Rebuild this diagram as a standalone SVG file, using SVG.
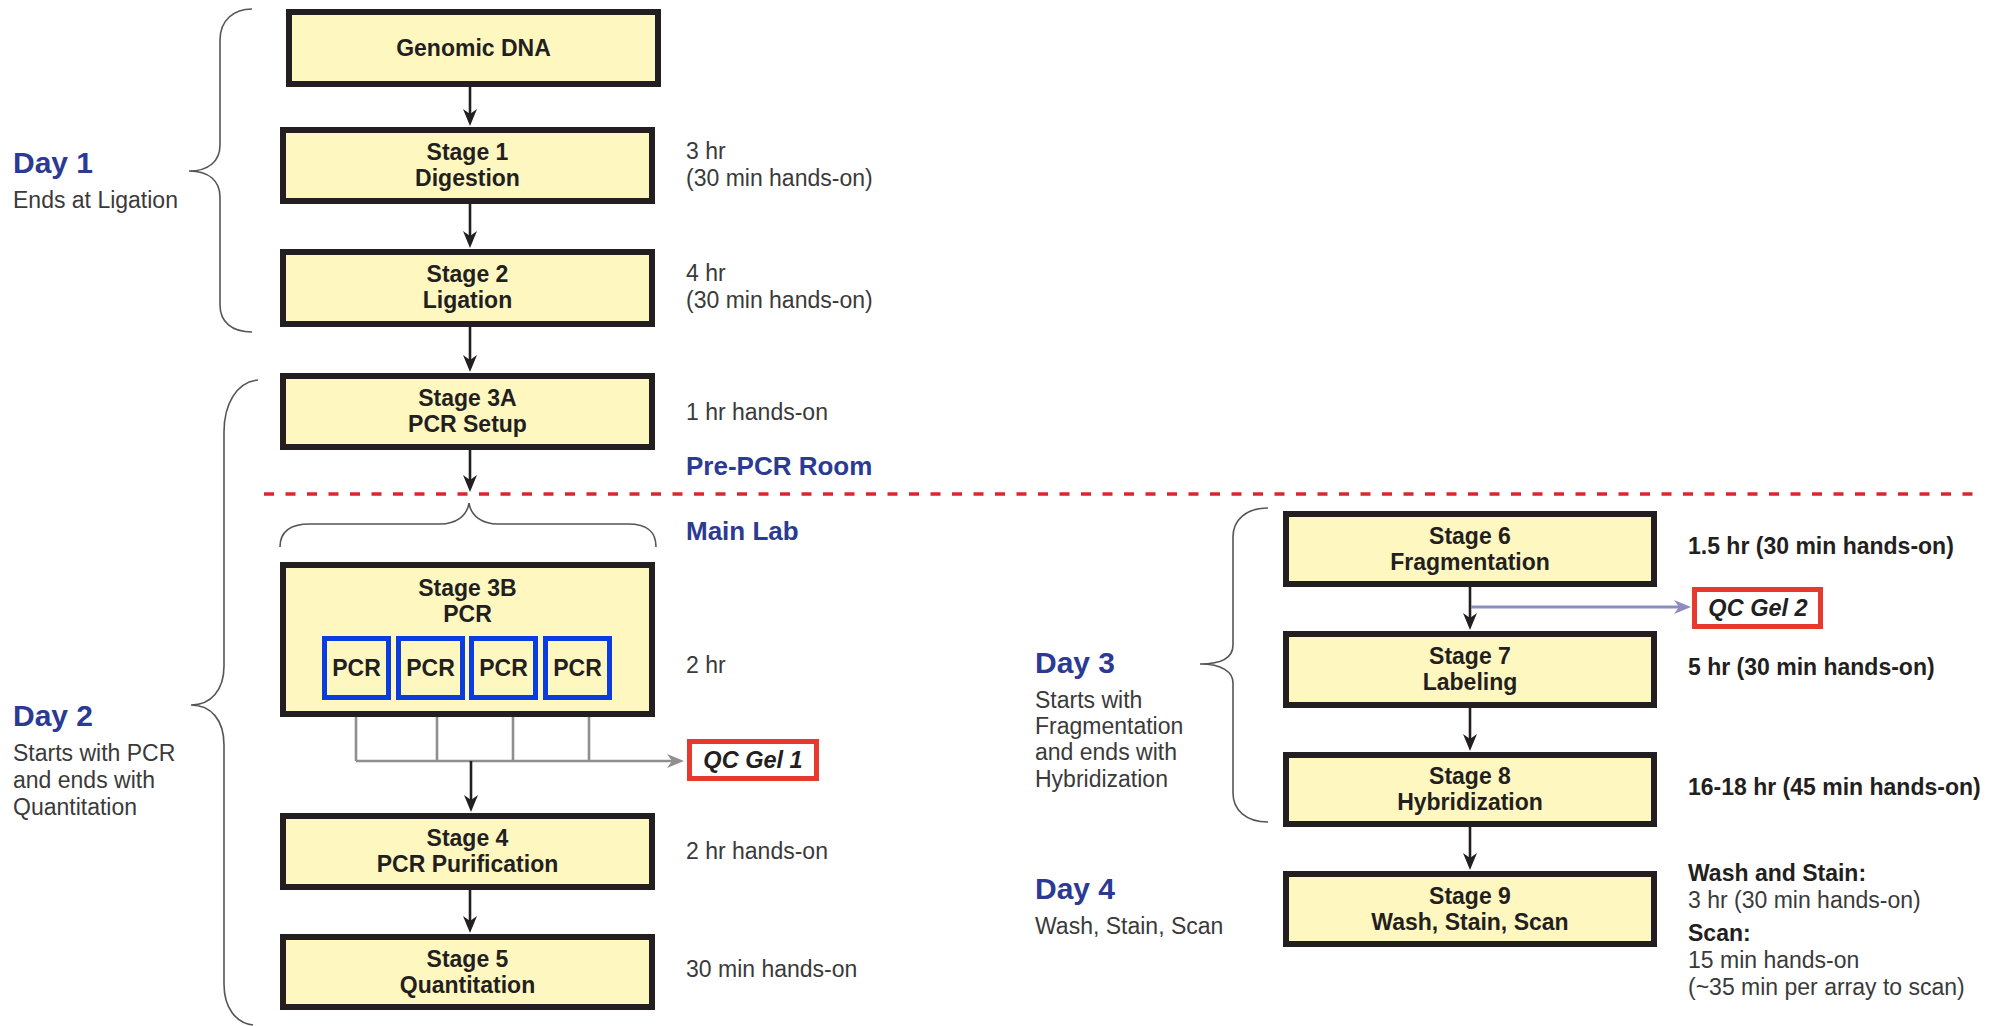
<svg xmlns="http://www.w3.org/2000/svg" width="2000" height="1026" viewBox="0 0 2000 1026">
<style>
  .box{fill:#fff7c0;stroke:#231f20;stroke-width:6}
  .pcr{fill:none;stroke:#0a3ce0;stroke-width:5}
  .qc{fill:#ffffff;stroke:#e8392f;stroke-width:5}
  .nt{font-family:"Liberation Sans",Arial,sans-serif;font-weight:bold;font-size:23px;fill:#231f20;text-anchor:middle}
  .qt{font-family:"Liberation Sans",Arial,sans-serif;font-weight:bold;font-style:italic;font-size:23.5px;fill:#231f20;text-anchor:middle}
  .rt{font-family:"Liberation Sans",Arial,sans-serif;font-size:23px;fill:#3a3a3a}
  .rb{font-family:"Liberation Sans",Arial,sans-serif;font-weight:bold;font-size:23px;fill:#231f20}
  .day{font-family:"Liberation Sans",Arial,sans-serif;font-weight:bold;font-size:30px;fill:#2b3a93}
  .room{font-family:"Liberation Sans",Arial,sans-serif;font-weight:bold;font-size:26px;fill:#2b3a93}
  .brace{fill:none;stroke:#555555;stroke-width:1.6}
  .arr{fill:none;stroke:#231f20;stroke-width:2.6;marker-end:url(#ab)}
  .gr{fill:none;stroke:#8f8f8f;stroke-width:2.6}
  .pu{fill:none;stroke:#8b8dc0;stroke-width:3}
</style>
<defs>
  <marker id="ab" viewBox="-18 -8 19 16" refX="-10" refY="0" markerWidth="19" markerHeight="16" markerUnits="userSpaceOnUse" orient="auto">
    <path d="M-17,-7 L0,0 L-17,7 L-12,0 Z" fill="#231f20"/>
  </marker>
  <marker id="ag" viewBox="-18 -8 19 16" refX="-10" refY="0" markerWidth="19" markerHeight="16" markerUnits="userSpaceOnUse" orient="auto">
    <path d="M-17,-7 L0,0 L-17,7 L-12,0 Z" fill="#8f8f8f"/>
  </marker>
  <marker id="ap" viewBox="-18 -8 19 16" refX="-10" refY="0" markerWidth="19" markerHeight="16" markerUnits="userSpaceOnUse" orient="auto">
    <path d="M-17,-7 L0,0 L-17,7 L-12,0 Z" fill="#8b8dc0"/>
  </marker>
</defs>
<rect width="2000" height="1026" fill="#ffffff"/>

<!-- divider -->
<path d="M264,494 H1980" fill="none" stroke="#d7282f" stroke-width="3.5" stroke-dasharray="10 11.5"/>

<!-- braces -->
<g id="braces">
  <path class="brace" d="M252,9 C234,9 220,20 220,40 L220,145 C220,161 209,171 189,171 C209,171 220,181 220,197 L220,305 C220,322 232,332 252,332"/>
  <path class="brace" d="M258,380 C236,382 224,405 224,432 L224,666 C224,690 211,705 191,705 C211,705 224,720 224,745 L224,984 C224,1008 236,1023 253,1025"/>
  <path class="brace" d="M1268,508 C1246,508 1233,520 1233,537 L1233,645 C1233,657 1222,664 1200,664 C1222,664 1233,672 1233,683 L1233,793 C1233,810 1246,822 1268,822"/>
  <path class="brace" d="M280,547 C280,532 290,524 310,524 L440,524 C456,524 467,516 469,503 C471,516 482,524 498,524 L628,524 C648,524 656,532 656,547"/>
</g>

<!-- connectors -->
<g id="connectors">
  <path class="arr" d="M470,87 V116"/>
  <path class="arr" d="M470,204 V238"/>
  <path class="arr" d="M470,327 V362"/>
  <path class="arr" d="M470,450 V482"/>
  <path class="gr" d="M356,717 V761 M437,717 V761 M513,717 V761 M589,717 V761"/>
  <path class="gr" d="M356,761 H674" marker-end="url(#ag)"/>
  <path class="arr" d="M471,761 V802"/>
  <path class="arr" d="M470,890 V923"/>
  <path class="arr" d="M1470,587 V620"/>
  <path class="pu" d="M1471,607 H1681" marker-end="url(#ap)"/>
  <path class="arr" d="M1470,708 V741"/>
  <path class="arr" d="M1470,827 V860"/>
</g>

<!-- nodes -->
<g id="genomic-dna">
  <rect class="box" x="289" y="12" width="369" height="72"/>
  <text class="nt" x="473.5" y="56">Genomic DNA</text>
</g>
<g id="stage1">
  <rect class="box" x="283" y="130" width="369" height="71"/>
  <text class="nt" x="467.5" y="160">Stage 1</text>
  <text class="nt" x="467.5" y="186">Digestion</text>
</g>
<g id="stage2">
  <rect class="box" x="283" y="252" width="369" height="72"/>
  <text class="nt" x="467.5" y="282">Stage 2</text>
  <text class="nt" x="467.5" y="308">Ligation</text>
</g>
<g id="stage3a">
  <rect class="box" x="283" y="376" width="369" height="71"/>
  <text class="nt" x="467.5" y="406">Stage 3A</text>
  <text class="nt" x="467.5" y="432">PCR Setup</text>
</g>
<g id="stage3b">
  <rect class="box" x="283" y="565" width="369" height="149"/>
  <text class="nt" x="467.5" y="596">Stage 3B</text>
  <text class="nt" x="467.5" y="622">PCR</text>
  <rect class="pcr" x="324.5" y="638.5" width="64" height="59"/>
  <rect class="pcr" x="398.5" y="638.5" width="64" height="59"/>
  <rect class="pcr" x="471.5" y="638.5" width="64" height="59"/>
  <rect class="pcr" x="545.5" y="638.5" width="64" height="59"/>
  <text class="nt" x="356.5" y="676">PCR</text>
  <text class="nt" x="430.5" y="676">PCR</text>
  <text class="nt" x="503.5" y="676">PCR</text>
  <text class="nt" x="577.5" y="676">PCR</text>
</g>
<g id="qcgel1">
  <rect class="qc" x="689.5" y="741.5" width="127" height="37"/>
  <text class="qt" x="753" y="768">QC Gel 1</text>
</g>
<g id="stage4">
  <rect class="box" x="283" y="816" width="369" height="71"/>
  <text class="nt" x="467.5" y="846">Stage 4</text>
  <text class="nt" x="467.5" y="872">PCR Purification</text>
</g>
<g id="stage5">
  <rect class="box" x="283" y="937" width="369" height="70"/>
  <text class="nt" x="467.5" y="967">Stage 5</text>
  <text class="nt" x="467.5" y="993">Quantitation</text>
</g>
<g id="stage6">
  <rect class="box" x="1286" y="514" width="368" height="70"/>
  <text class="nt" x="1470" y="544">Stage 6</text>
  <text class="nt" x="1470" y="570">Fragmentation</text>
</g>
<g id="qcgel2">
  <rect class="qc" x="1694.5" y="589.5" width="126" height="37"/>
  <text class="qt" x="1758" y="616">QC Gel 2</text>
</g>
<g id="stage7">
  <rect class="box" x="1286" y="634" width="368" height="71"/>
  <text class="nt" x="1470" y="664">Stage 7</text>
  <text class="nt" x="1470" y="690">Labeling</text>
</g>
<g id="stage8">
  <rect class="box" x="1286" y="755" width="368" height="69"/>
  <text class="nt" x="1470" y="784">Stage 8</text>
  <text class="nt" x="1470" y="810">Hybridization</text>
</g>
<g id="stage9">
  <rect class="box" x="1286" y="874" width="368" height="70"/>
  <text class="nt" x="1470" y="904">Stage 9</text>
  <text class="nt" x="1470" y="930">Wash, Stain, Scan</text>
</g>

<!-- day labels -->
<g id="day1">
  <text class="day" x="13" y="173">Day 1</text>
  <text class="rt" x="13" y="208">Ends at Ligation</text>
</g>
<g id="day2">
  <text class="day" x="13" y="726">Day 2</text>
  <text class="rt" x="13" y="761">Starts with PCR</text>
  <text class="rt" x="13" y="788">and ends with</text>
  <text class="rt" x="13" y="815">Quantitation</text>
</g>
<g id="day3">
  <text class="day" x="1035" y="673">Day 3</text>
  <text class="rt" x="1035" y="708">Starts with</text>
  <text class="rt" x="1035" y="734">Fragmentation</text>
  <text class="rt" x="1035" y="760">and ends with</text>
  <text class="rt" x="1035" y="787">Hybridization</text>
</g>
<g id="day4">
  <text class="day" x="1035" y="899">Day 4</text>
  <text class="rt" x="1035" y="934">Wash, Stain, Scan</text>
</g>

<!-- time annotations -->
<g id="times-left">
  <text class="rt" x="686" y="159">3 hr</text>
  <text class="rt" x="686" y="186">(30 min hands-on)</text>
  <text class="rt" x="686" y="281">4 hr</text>
  <text class="rt" x="686" y="308">(30 min hands-on)</text>
  <text class="rt" x="686" y="420">1 hr hands-on</text>
  <text class="room" x="686" y="475">Pre-PCR Room</text>
  <text class="room" x="686" y="540">Main Lab</text>
  <text class="rt" x="686" y="673">2 hr</text>
  <text class="rt" x="686" y="859">2 hr hands-on</text>
  <text class="rt" x="686" y="977">30 min hands-on</text>
</g>
<g id="times-right">
  <text class="rb" x="1688" y="554">1.5 hr (30 min hands-on)</text>
  <text class="rb" x="1688" y="675">5 hr (30 min hands-on)</text>
  <text class="rb" x="1688" y="795">16-18 hr (45 min hands-on)</text>
  <text class="rb" x="1688" y="881">Wash and Stain:</text>
  <text class="rt" x="1688" y="908">3 hr (30 min hands-on)</text>
  <text class="rb" x="1688" y="941">Scan:</text>
  <text class="rt" x="1688" y="968">15 min hands-on</text>
  <text class="rt" x="1688" y="995">(~35 min per array to scan)</text>
</g>
</svg>
